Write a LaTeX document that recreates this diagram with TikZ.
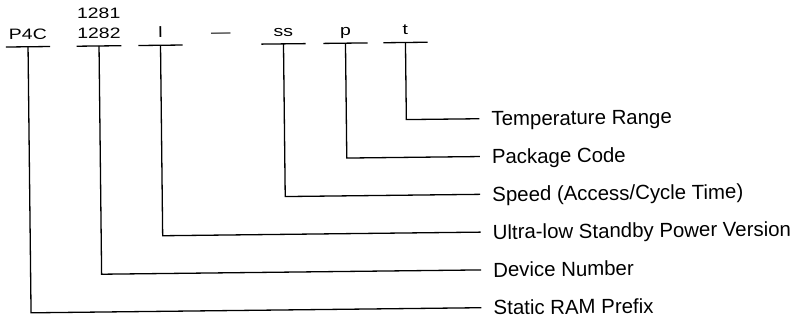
\documentclass[tikz,border=0pt]{standalone}
\usepackage{fontspec}
\usepackage{graphicx}
\setmainfont{Liberation Sans}
\usetikzlibrary{positioning}
\newcommand{\codetxt}[1]{\scalebox{1.3}[1]{#1}}

\begin{document}
\begin{tikzpicture}[
  x=1pt, y=-1pt, line width=1.3pt,
  code/.style={anchor=south, inner xsep=0pt, inner ysep=0pt, minimum width=43pt, text depth=6.9pt, font=\fontsize{15}{18}\selectfont},
  lab/.style={anchor=west, inner xsep=11.5pt, inner ysep=0pt, text height=14.5pt, text depth=0pt, font=\fontsize{20.4}{24}\selectfont}
]
  \useasboundingbox (0,0) rectangle (794,321);
  \begin{scope}[rotate around={0.65:(255,175)}, transform shape]
    \node[code] (pre) at (29.5,44.2) {\codetxt{P4C}};
    \node[code] (dev) at (100.5,44.2) {\codetxt{1282}};
    \node[code, anchor=base, text depth=0pt] (devalt) at (100.5,16.5) {\codetxt{1281}};
    \node[code] (pwr) at (162,44.2) {\codetxt{l}};
    \node[code, minimum width=0pt] (sep) at (222.5,44.2) {\codetxt{—}};
    \node[code] (spd) at (285,44.2) {\codetxt{ss}};
    \node[code] (pkg) at (347,44.2) {\codetxt{p}};
    \node[code] (tmp) at (407,44.2) {\codetxt{t}};

    \node[lab] (tmplab) at (480,121.3) {Temperature Range};
    \node[lab] (pkglab) at (480,159.1) {Package Code};
    \node[lab] (spdlab) at (480,196.9) {Speed (Access/Cycle Time)};
    \node[lab] (pwrlab) at (480,234.7) {Ultra-low Standby Power Version};
    \node[lab] (devlab) at (480,272.5) {Device Number};
    \node[lab] (prelab) at (480,310.3) {Static RAM Prefix};

    \foreach \n in {pre,dev,pwr,spd,pkg,tmp} {
      \draw (\n.south west) -- (\n.south east);
      \draw (\n.south) |- (\n lab.west);
    }
  \end{scope}
\end{tikzpicture}
\end{document}
